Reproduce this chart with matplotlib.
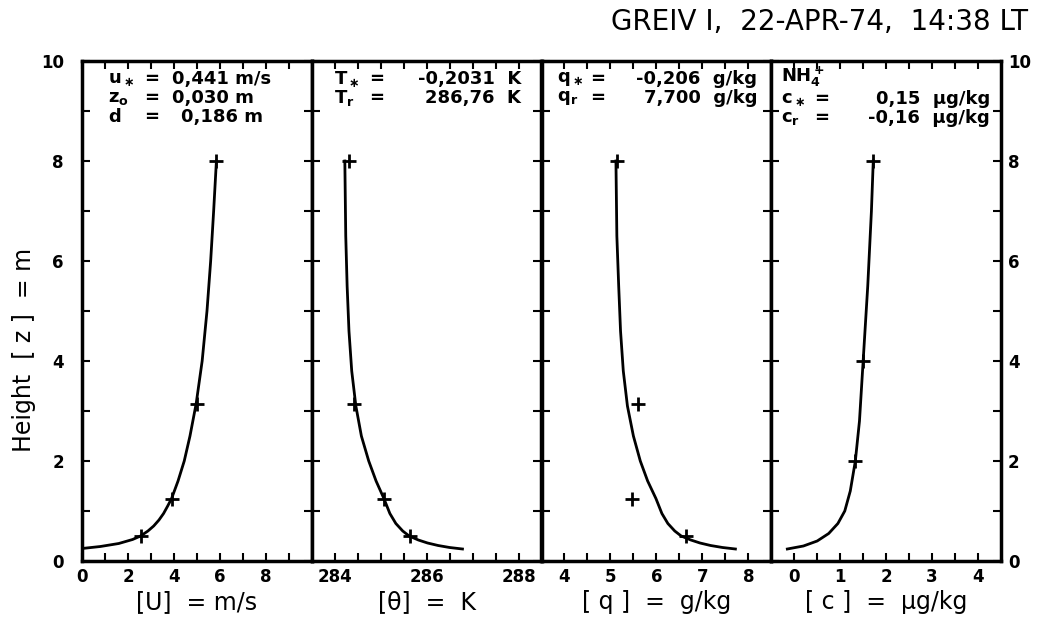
import matplotlib.pyplot as plt

plt.rcParams['font.family'] = ['DejaVu Sans']
plt.rcParams['mathtext.fontset'] = 'dejavusans'
plt.rcParams['mathtext.default'] = 'bf'

# measured heights of the observations
obs_z = [0.5, 1.25, 3.15, 8.0]
ion_z = [2.0, 4.0, 8.0]

# observations
wind_obs = [2.55, 3.9, 5.0, 5.83]
temp_obs = [285.64, 285.07, 284.42, 284.30]
hum_obs = [6.65, 5.47, 5.6, 5.14]
nh4_obs = [1.33, 1.50, 1.72]

# fitted profiles
wind_z = [0.25, 0.29, 0.35, 0.43, 0.5, 0.6, 0.7, 0.82, 0.95, 1.1, 1.25, 1.6, 2.0,
          2.5, 3.15, 4.0, 5.0, 6.0, 7.0, 8.0]
wind_u = [0.0, 0.8, 1.6, 2.2, 2.55, 2.87, 3.12, 3.35, 3.55, 3.73, 3.9, 4.18, 4.45,
          4.7, 4.97, 5.23, 5.44, 5.6, 5.73, 5.85]

prof_z = [0.24, 0.27, 0.31, 0.36, 0.42, 0.5, 0.6, 0.75, 0.95, 1.25, 1.6, 2.0, 2.5,
          3.1, 3.8, 4.6, 5.5, 6.5, 8.0]
temp_t = [286.78, 286.5, 286.25, 286.02, 285.82, 285.62, 285.48, 285.33, 285.2, 285.07,
          284.9, 284.74, 284.58, 284.46, 284.37, 284.31, 284.27, 284.24, 284.22]
hum_q = [7.72, 7.44, 7.18, 6.95, 6.75, 6.54, 6.4, 6.25, 6.12, 5.99,
         5.81, 5.65, 5.5, 5.37, 5.28, 5.22, 5.18, 5.14, 5.12]

nh4_z = [0.24, 0.3, 0.4, 0.55, 0.75, 1.0, 1.4, 2.0, 2.8, 4.0, 5.5, 7.0, 8.0]
nh4_c = [-0.15, 0.2, 0.5, 0.75, 0.95, 1.1, 1.22, 1.33, 1.42, 1.5, 1.6, 1.68, 1.72]

# axes
x_ranges = [(0, 10), (283.5, 288.5), (3.5, 8.5), (-0.5, 4.5)]
x_ticks = [
    [0, 1, 2, 3, 4, 5, 6, 7, 8, 9],
    [284, 284.5, 285, 285.5, 286, 286.5, 287, 287.5, 288],
    [4, 4.5, 5, 5.5, 6, 6.5, 7, 7.5, 8],
    [0, 0.5, 1, 1.5, 2, 2.5, 3, 3.5, 4],
]
x_labels = [
    ['0', '', '2', '', '4', '', '6', '', '8', ''],
    ['284', '', '', '', '286', '', '', '', '288'],
    ['4', '', '5', '', '6', '', '7', '', '8'],
    ['0', '', '1', '', '2', '', '3', '', '4'],
]
x_titles = ['[U]  = m/s', '[θ]  =  K', '[ q ]  =  g/kg', '[ c ]  =  µg/kg']
y_ticks = [0, 1, 2, 3, 4, 5, 6, 7, 8, 9, 10]
y_labels = ['0', '', '2', '', '4', '', '6', '', '8', '', '10']

W, H = 1039, 625
fig = plt.figure(figsize=(W / 100, H / 100), dpi=100)

left_px = 82
panel_w = 229.75
top_px, bot_px = 61, 561

axes = []
for i in range(4):
    ax = fig.add_axes([(left_px + i * panel_w) / W, 1 - bot_px / H,
                       panel_w / W, (bot_px - top_px) / H])
    ax.set_xlim(*x_ranges[i])
    ax.set_ylim(0, 10)
    ax.set_xticks(x_ticks[i])
    ax.set_xticklabels(x_labels[i], fontsize=12, fontweight='bold')
    ax.set_yticks(y_ticks)
    ax.tick_params(direction='in', length=6, width=1.5, top=True, right=True,
                   pad=5)
    if i == 0:
        ax.set_yticklabels(y_labels, fontsize=12, fontweight='bold')
        ax.tick_params(axis='y', pad=13)
    elif i == 3:
        ax.set_yticklabels(y_labels, fontsize=12, fontweight='bold')
        ax.tick_params(axis='y', labelleft=False, labelright=True, pad=5)
    else:
        ax.set_yticklabels([])
    for sp in ax.spines.values():
        sp.set_linewidth(2.5)
    ax.set_xlabel(x_titles[i], fontsize=17, labelpad=3)
    axes.append(ax)

line_kw = dict(color='black', lw=2)
mark_kw = dict(color='black', ls='none', marker='+', ms=10, mew=2)

axes[0].plot(wind_u, wind_z, **line_kw)
axes[0].plot(wind_obs, obs_z, **mark_kw)
axes[1].plot(temp_t, prof_z, **line_kw)
axes[1].plot(temp_obs, obs_z, **mark_kw)
axes[2].plot(hum_q, prof_z, **line_kw)
axes[2].plot(hum_obs, obs_z, **mark_kw)
axes[3].plot(nh4_c, nh4_z, **line_kw)
axes[3].plot(nh4_obs, ion_z, **mark_kw)


def px_text(x_px, y_px, s, ha='left'):
    fig.text(x_px / W, 1 - y_px / H, s, ha=ha, va='center', fontsize=13,
             fontweight='bold')


# parameter boxes
rows = [79, 98, 117]
px_text(108, rows[0], r'$u_\ast$')
px_text(108, rows[1], r'$z_o$')
px_text(108, rows[2], 'd')
for r in rows:
    px_text(152, r, '=', ha='center')
px_text(172, rows[0], '0,441 m/s')
px_text(172, rows[1], '0,030 m')
px_text(181, rows[2], '0,186 m')

px_text(334, rows[0], r'$T_\ast$')
px_text(334, rows[1], r'$T_r$')
px_text(377, rows[0], '=', ha='center')
px_text(377, rows[1], '=', ha='center')
px_text(521, rows[0], '-0,2031  K', ha='right')
px_text(521, rows[1], '286,76  K', ha='right')

px_text(557, rows[0], r'$q_\ast$')
px_text(557, rows[1], r'$q_r$')
px_text(598, rows[0], '=', ha='center')
px_text(598, rows[1], '=', ha='center')
px_text(757, rows[0], '-0,206  g/kg', ha='right')
px_text(757, rows[1], '7,700  g/kg', ha='right')

px_text(781, rows[0] - 2, r'NH$_4^+$')
px_text(781, rows[1] + 1, r'$c_\ast$')
px_text(781, rows[2] + 1, r'$c_r$')
px_text(822, rows[1] + 1, '=', ha='center')
px_text(822, rows[2] + 1, '=', ha='center')
px_text(990, rows[1] + 1, '0,15  µg/kg', ha='right')
px_text(990, rows[2] + 1, '-0,16  µg/kg', ha='right')

fig.text(24 / W, 1 - 350 / H, 'Height  [ z ]  = m', rotation=90, ha='center',
         va='center', fontsize=17)
fig.text(1028 / W, 1 - 22 / H, 'GREIV I,  22-APR-74,  14:38 LT', ha='right',
         va='center', fontsize=20)

fig.savefig('out.png', dpi=100)
